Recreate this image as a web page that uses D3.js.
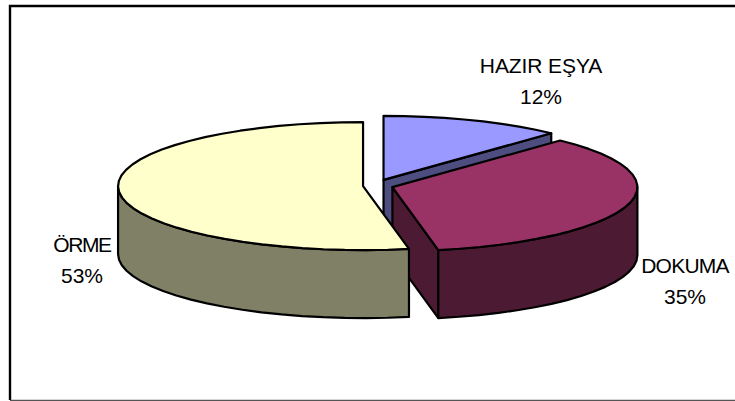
<!DOCTYPE html>
<html>
<head>
<meta charset="utf-8">
<script src="https://cdn.jsdelivr.net/npm/d3@7"></script>
<style>
  html, body { margin: 0; padding: 0; background: #fff; }
  svg { display: block; }
  text { font-family: "Liberation Sans", Arial, sans-serif; font-size: 21px; fill: #000; }
</style>
</head>
<body>
<svg id="chart" width="735" height="401"></svg>
<script>
const categories = ['HAZIR EŞYA', 'DOKUMA', 'ÖRME']
const shares = [12, 35, 53]
const topColors = ['#9999ff', '#993366', '#ffffcc']
const sideColors = ['#4d4d80', '#4d1a33', '#808066']

const center = { x: 378, y: 185.5 }
const rx = 245
const ry = 64
const depth = 68
const explodeX = 15
const explodeY = 6

// label anchors, index follows categories
const labelPos = [
  { x: 541, y: 73, spacing: -0.1 },
  { x: 685, y: 273, spacing: -0.75 },
  { x: 82, y: 252, spacing: -1.4 },
]

const svg = d3.select('#chart')

// frame, the right side is cut off in the picture
svg.append('path').attr('d', 'M735,6H10V400').attr('fill', 'none').attr('stroke', '#000').attr('stroke-width', 2.4)
svg.append('path').attr('d', 'M10,400.4H735').attr('fill', 'none').attr('stroke', '#555').attr('stroke-width', 1.4)

const pie = d3.pie().sort(null).startAngle(0).endAngle(2 * Math.PI)
const slices = pie(shares)

const line = d3.line()

// clockwise angle from the top, projected on the tilted disc
function project(c, a, dy = 0) {
  return [c.x + rx * Math.sin(a), c.y - ry * Math.cos(a) + dy]
}

function arcPoints(c, a0, a1, dy = 0) {
  const n = Math.max(2, Math.ceil((a1 - a0) / 0.09))
  return d3.range(n + 1).map((i) => project(c, a0 + ((a1 - a0) * i) / n, dy))
}

const g = svg.append('g').attr('stroke', '#000').attr('stroke-width', 2.2).attr('stroke-linejoin', 'round')

slices.forEach((s, i) => {
  const mid = (s.startAngle + s.endAngle) / 2
  const c = {
    x: center.x + explodeX * Math.sin(mid),
    y: center.y - explodeY * Math.cos(mid),
  }
  const side = g.append('g').attr('fill', sideColors[i])

  // cut faces, only the ones turned toward the viewer
  const faces = []
  if (Math.sin(s.startAngle) < -1e-6) faces.push(s.startAngle)
  if (Math.sin(s.endAngle) > 1e-6) faces.push(s.endAngle)
  faces.forEach((a) => {
    const p = project(c, a)
    side.append('path').attr('d', line([
      [c.x, c.y], p, [p[0], p[1] + depth], [c.x, c.y + depth],
    ]) + 'Z')
  })

  // outer wall, lower half of the disc
  const w0 = Math.max(s.startAngle, Math.PI / 2)
  const w1 = Math.min(s.endAngle, 1.5 * Math.PI)
  if (w1 > w0) {
    const upper = arcPoints(c, w0, w1)
    const lower = arcPoints(c, w0, w1, depth).reverse()
    side.append('path').attr('d', line(upper.concat(lower)) + 'Z')
  }

  // top face
  g.append('path')
    .attr('fill', topColors[i])
    .attr('d', line([[c.x, c.y]].concat(arcPoints(c, s.startAngle, s.endAngle))) + 'Z')
})

// labels
const labels = svg.append('g').attr('text-anchor', 'middle')
categories.forEach((name, i) => {
  labels.append('text').attr('x', labelPos[i].x).attr('y', labelPos[i].y)
    .attr('letter-spacing', labelPos[i].spacing).text(name)
  labels.append('text').attr('x', labelPos[i].x).attr('y', labelPos[i].y + 30.5).text(shares[i] + '%')
})
</script>
</body>
</html>
